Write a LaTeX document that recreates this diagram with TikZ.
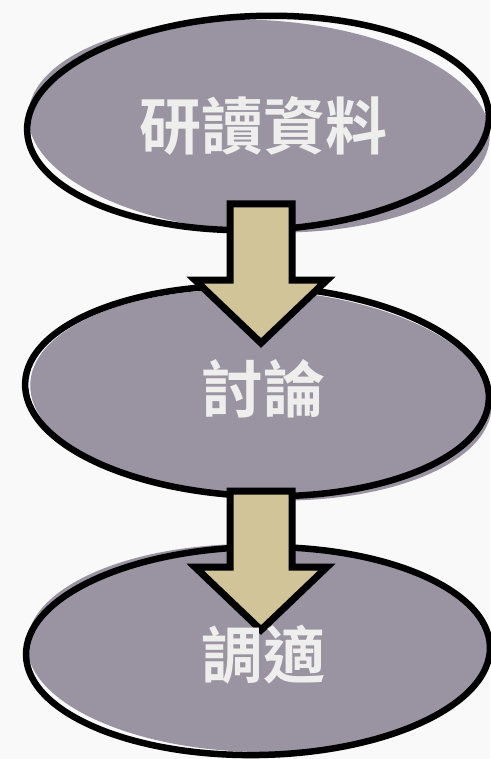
\documentclass[tikz,border=0pt]{standalone}
\usepackage{fontspec}
\newfontfamily\cjk[BoldFont={Noto Sans CJK TC Bold}]{Noto Sans CJK TC}
\definecolor{bg}{HTML}{F9F9F9}
\definecolor{blob}{HTML}{9A93A1}
\definecolor{lbl}{HTML}{EEEEEC}
\definecolor{tan}{HTML}{D0C498}
\tikzset{
  blobfill/.style={fill=blob},
  bloboutline/.style={draw=black, line width=6.5pt},
  lbltext/.style={text=lbl, font=\cjk\bfseries\fontsize{62}{62}\selectfont, inner sep=0pt},
  blockarrow/.style={draw=black, fill=tan, line width=7pt, line join=miter},
}
\begin{document}
\begin{tikzpicture}[x=1pt,y=-1pt]
\useasboundingbox[fill=bg] (0,0) rectangle (490,759);
% ellipse 1
\coordinate (c1) at (258,123);
\fill[blob] (259,126) ellipse [x radius=231pt, y radius=106pt, rotate=-3];
\draw[bloboutline] (c1) ellipse [x radius=231pt, y radius=107pt, rotate=2];
% ellipse 2
\coordinate (c2) at (257,391);
\fill[blob] (261,395) ellipse [x radius=231pt, y radius=105pt, rotate=-3];
\draw[bloboutline] (c2) ellipse [x radius=232pt, y radius=105pt, rotate=-2];
% ellipse 3
\coordinate (c3) at (258,651);
\fill[blob] (258,648) ellipse [x radius=231pt, y radius=104pt, rotate=-1];
\draw[bloboutline] (c3) ellipse [x radius=232pt, y radius=104pt, rotate=1];
% arrows
\draw[blockarrow] (230,204) -- (292,204) -- (292,280) -- (327,280) -- (261,343) -- (195,280) -- (230,280) -- cycle;
\draw[blockarrow] (230,491) -- (292,491) -- (292,567) -- (327,567) -- (261,630) -- (195,567) -- (230,567) -- cycle;
% labels
\node[lbltext] (t1) at (263,126) {研讀資料};
\node[lbltext] (t2) at (263,389) {討論};
\node[lbltext] (t3) at (263,655) {調適};
\end{tikzpicture}
\end{document}
